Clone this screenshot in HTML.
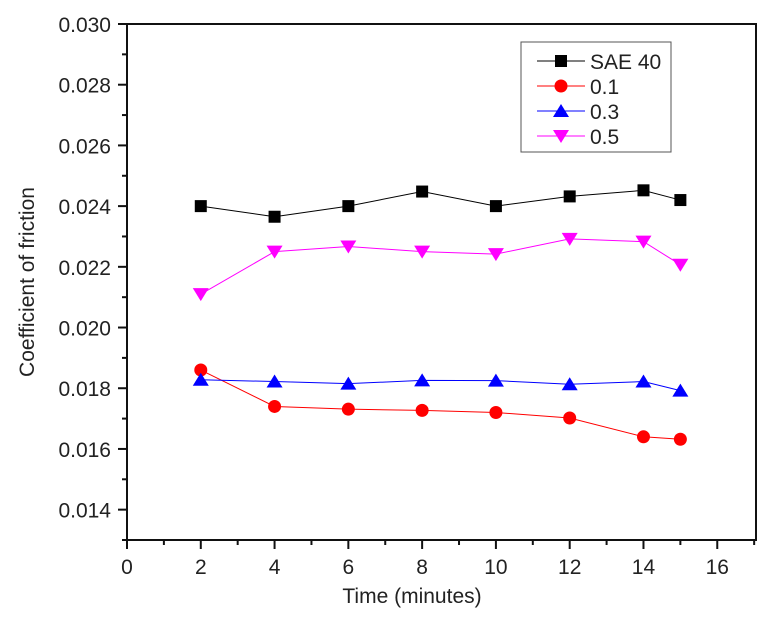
<!DOCTYPE html>
<html><head><meta charset="utf-8"><style>
body{margin:0;background:#fff}
svg text{font-family:"Liberation Sans",Arial,sans-serif;fill:#222}
</style></head><body>
<svg id="chart" width="770" height="614" xmlns="http://www.w3.org/2000/svg"></svg>
<script>
const xValues=[2,4,6,8,10,12,14,15];
const seriesNames=["SAE 40","0.1","0.3","0.5"];
const sae40=[0.0240,0.02365,0.0240,0.02448,0.0240,0.02432,0.02452,0.02420];
const conc01=[0.01860,0.01740,0.01731,0.01727,0.01720,0.01702,0.01640,0.01632];
const conc03=[0.01828,0.01822,0.01815,0.01826,0.01825,0.01813,0.01822,0.01792];
const conc05=[0.0211,0.02250,0.02267,0.02250,0.02242,0.02292,0.02283,0.02207];
const xTicks=[0,2,4,6,8,10,12,14,16];
const yTicks=[0.014,0.016,0.018,0.020,0.022,0.024,0.026,0.028,0.030];

const L=127,R=756,T=24,B=540,xMin=0,xMax=17.05,yMin=0.013,yMax=0.030;
const sx=v=>L+(v-xMin)/(xMax-xMin)*(R-L);
const sy=v=>B-(v-yMin)/(yMax-yMin)*(B-T);
const svg=document.getElementById('chart');
const NS='http://www.w3.org/2000/svg';
function mk(tag,attrs,parent){const e=document.createElementNS(NS,tag);for(const k in attrs)e.setAttribute(k,attrs[k]);(parent||svg).appendChild(e);return e;}

const frame=mk('rect',{x:L,y:T,width:R-L,height:B-T,fill:'none',stroke:'#111','stroke-width':2});



for(let i=0;i<=17;i++){const t=mk('line',{x1:sx(i),x2:sx(i),y1:B,y2:B+(i%2?5:9),stroke:'#111','stroke-width':2});

}
xTicks.forEach(v=>{const t=mk('text',{x:sx(v),y:B+34,'text-anchor':'middle','font-size':21});t.textContent=v;

});
for(let v=0.013;v<=0.0301;v+=0.001){const major=Math.abs(Math.round(v*1000)%2)===0;
const t=mk('line',{x1:L-(major?9:5),x2:L,y1:sy(v),y2:sy(v),stroke:'#111','stroke-width':2});

}
yTicks.forEach(v=>{const t=mk('text',{x:L-16,y:sy(v)+8,'text-anchor':'end','font-size':21});t.textContent=v.toFixed(3);

});
const xt=mk('text',{x:412,y:603,'text-anchor':'middle','font-size':21});xt.textContent='Time (minutes)';


const yt=mk('text',{x:0,y:0,'text-anchor':'middle','font-size':21,transform:'translate(34,282) rotate(-90)'});yt.textContent='Coefficient of friction';



function marker(type,x,y,color,g){
 if(type==='square')return mk('rect',{x:x-6,y:y-6,width:12,height:12,fill:color},g);
 if(type==='circle')return mk('circle',{cx:x,cy:y,r:6.5,fill:color},g);
 if(type==='up')return mk('polygon',{points:`${x},${y-7} ${x-8},${y+6} ${x+8},${y+6}`,fill:color},g);
 return mk('polygon',{points:`${x},${y+7} ${x-8},${y-6} ${x+8},${y-6}`,fill:color},g);
}
const series=[[sae40,'#000','square'],[conc01,'#f00','circle'],[conc03,'#00f','up'],[conc05,'#f0f','down']];
series.forEach(([vals,color,type],si)=>{
 const g=mk('g',{});
 
 
 mk('polyline',{points:vals.map((v,i)=>sx(xValues[i])+','+sy(v)).join(' '),fill:'none',stroke:color,'stroke-width':1},g);
 vals.forEach((v,i)=>{const m=marker(type,sx(xValues[i]),sy(v),color,g);
 
 });
});
const lg=mk('g',{});


mk('rect',{x:521,y:42,width:150,height:110,fill:'#fff',stroke:'#555','stroke-width':1},lg);
series.forEach(([vals,color,type],si)=>{
 const y=61+si*25;
 const e=mk('g',{},lg);
 
 
 mk('line',{x1:537,x2:585,y1:y,y2:y,stroke:color,'stroke-width':1},e);
 marker(type,561,y,color,e);
 const t=mk('text',{x:590,y:y+8,'font-size':21},e);t.textContent=seriesNames[si];
});
</script>
</body></html>
